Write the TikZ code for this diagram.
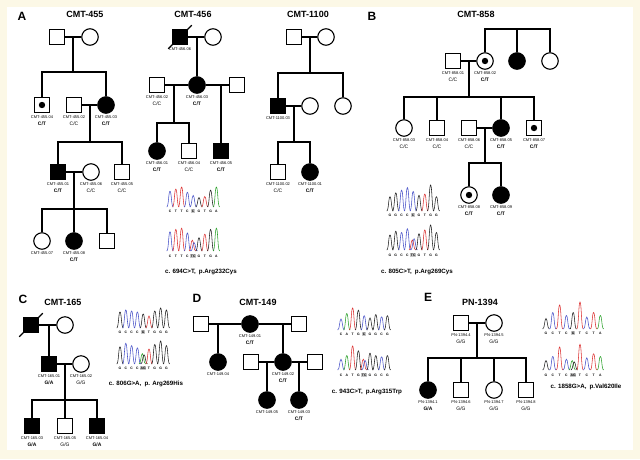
\documentclass[tikz,border=0pt]{standalone}
\usepackage{fontspec}
\setmainfont{Liberation Sans}
\usepackage{tikz}
\usetikzlibrary{positioning, calc}
\definecolor{paper}{RGB}{252,248,230}
\definecolor{baseA}{RGB}{40,160,40}
\definecolor{baseC}{RGB}{70,80,200}
\definecolor{baseG}{RGB}{30,30,30}
\definecolor{baseT}{RGB}{220,50,50}
\tikzset{
    trace/.style={line width=0.55pt},
    seqlet/.style={font=\fontsize{3.4}{3.4}\selectfont\bfseries, inner sep=0.5pt, text height=2.5pt, text depth=0pt},
    hl/.style={fill=black!22},
    mutcap/.style={font=\fontsize{6.2}{7}\selectfont\bfseries}
}
% genotypes: mutant in bold, wild type plain
\newcommand{\gtm}[1]{{\fontsize{5}{6}\selectfont\bfseries #1}}
\newcommand{\gtw}[1]{{\fontsize{5}{6}\selectfont #1}}
% chromatogram peaks: x0, spacing, baseline, height, {base/amp/pos,...}
\newcommand{\chromtrace}[5]{%
  \foreach \nuc/\amp/\ps in {#5} {
    \pgfmathsetmacro{\px}{#1+(\ps-1)*#2}
    \pgfmathsetmacro{\py}{#3-\amp*#4}
    \draw[trace, color=base\nuc] (\px-3.3,#3) .. controls (\px-1.3,#3) and (\px-1.5,\py) .. (\px,\py) .. controls (\px+1.5,\py) and (\px+1.3,#3) .. (\px+3.3,#3);
  }%
}
% sequence letters: prefix, x0, spacing, y, highlighted index, {letters}
\newcommand{\seqline}[6]{%
  \foreach \l [count=\i] in {#6} {
    \ifnum\i=#5\relax\def\st{hl}\else\def\st{}\fi
    \node[seqlet, \st] (#1\i) at ({#2+(\i-1)*#3}, #4) {\l};
  }%
}

\begin{document}
\begin{tikzpicture}[
    x=1pt, y=-1pt,
    male/.style={draw, rectangle, minimum size=15.5pt, inner sep=0pt, line width=1.1pt},
    female/.style={draw, circle, minimum size=16.5pt, inner sep=0pt, line width=1.1pt},
    aff/.style={fill=black},
    carrier/.style={path picture={\fill[black] (path picture bounding box.center) circle (3.2pt);}},
    pline/.style={line width=1.2pt},
    idlab/.style={font=\fontsize{4}{7}\selectfont, align=center, inner sep=0pt},
    panellab/.style={font=\fontsize{12}{12}\selectfont\bfseries},
    famtitle/.style={font=\fontsize{9}{9}\selectfont\bfseries}
]
    \useasboundingbox (0,0) rectangle (640,459);
    \fill[paper] (0,0) rectangle (640,459);
    \fill[white] (7,7) rectangle (633,450);

    % --- Panel A: CMT-455 ---
    \node[panellab] (labA) at (22,16) {A};
    \node[famtitle] (t455) at (85,14) {CMT-455};
    \node[male] (g455f) at (57,37) {};
    \node[female] (g455m) at (90,37) {};
    \node[male, carrier] (p45504) at (42,105) {};
    \node[male] (p45502) at (74,105) {};
    \node[female, aff] (p45503) at (106,105) {};
    \node[male, aff] (p45501) at (58,172) {};
    \node[female] (p45506) at (91,172) {};
    \node[male] (p45505) at (122,172) {};
    \node[female] (p45507) at (42,241) {};
    \node[female, aff] (p45508) at (74,241) {};
    \node[male] (g455s) at (107,241) {};

    \coordinate (s455a) at (73,72);
    \coordinate (s455b) at (90,142);
    \coordinate (s455c) at (74,209);
    \draw[pline] (g455f) -- (g455m);
    \draw[pline] (s455a |- g455f) -- (s455a);
    \draw[pline] (p45504) |- (s455a) -| (p45503);
    \draw[pline] (p45502) -- (p45503);
    \draw[pline] (s455b |- p45502) -- (s455b);
    \draw[pline] (p45501) |- (s455b) -| (p45505);
    \draw[pline] (p45501) -- (p45506);
    \draw[pline] (s455c |- p45501) -- (s455c);
    \draw[pline] (p45507) |- (s455c) -| (g455s);
    \draw[pline] (p45508) -- (p45508 |- s455c);

    % --- Panel A: CMT-456 ---
    \node[famtitle] (t456) at (193,14) {CMT-456};
    \node[male, aff] (p45606) at (180,37) {};
    \node[female] (g456m) at (213,37) {};
    \node[male] (p45602) at (157,85) {};
    \node[female, aff] (p45603) at (197,85) {};
    \node[male] (g456h) at (237,85) {};
    \node[female, aff] (p45601) at (157,151) {};
    \node[male] (p45604) at (189,151) {};
    \node[male, aff] (p45605) at (221,151) {};

    \coordinate (s456a) at (174,123);
    \draw[pline] ($(p45606.south west)+(-3.5,3.5)$) -- ($(p45606.north east)+(3.5,-3.5)$);
    \draw[pline] (p45606) -- (g456m);
    \draw[pline] (p45603 |- p45606) -- (p45603);
    \draw[pline] (p45602) -- (p45603);
    \draw[pline] (p45603) -- (g456h);
    \draw[pline] (s456a |- p45602) -- (s456a);
    \draw[pline] (p45601) |- (s456a) -| (p45604);
    \draw[pline] (p45605 |- g456h) -- (p45605);

    % --- Panel A: CMT-1100 ---
    \node[famtitle] (t1100) at (308,14) {CMT-1100};
    \node[male] (g1100f) at (294,37) {};
    \node[female] (g1100m) at (326,37) {};
    \node[male, aff] (p110003) at (278,106) {};
    \node[female] (g1100w) at (310,106) {};
    \node[female] (g1100d) at (343,106) {};
    \node[male] (p110002) at (278,172) {};
    \node[female, aff] (p110001) at (310,172) {};

    \coordinate (s1100a) at (310,73);
    \coordinate (s1100b) at (294,142);
    \draw[pline] (g1100f) -- (g1100m);
    \draw[pline] (s1100a |- g1100f) -- (s1100a);
    \draw[pline] (p110003) |- (s1100a) -| (g1100d);
    \draw[pline] (p110003) -- (g1100w);
    \draw[pline] (s1100b |- p110003) -- (s1100b);
    \draw[pline] (p110002) |- (s1100b) -| (p110001);

    % traces for panel A
    \chromtrace{170}{5.8}{207}{21}{C/.75/1, T/.85/2, T/.95/3, C/.7/4, C/.55/5, G/.45/6, T/.5/7, G/.8/8, A/.95/9}
    \seqline{qA}{170}{5.8}{211}{5}{C,T,T,C,C,G,T,G,A}
    \chromtrace{170}{5.8}{251}{24}{C/.8/1, T/.9/2, T/.95/3, C/.75/4, T/.45/4.85, C/.35/5.15, G/.55/6, T/.7/7, G/.9/8, A/.95/9}
    \seqline{rA}{170}{5.8}{256}{5}{C,T,T,C,TC,G,T,G,A}
    \node[mutcap] (capA) at (201,272) {c. 694C>T,\enspace p.Arg232Cys};

    % --- Panel B: CMT-858 ---
    \node[panellab] (labB) at (372,16) {B};
    \node[famtitle] (t858) at (476,14) {CMT-858};
    \node[male] (p85801) at (453,61) {};
    \node[female, carrier] (p85802) at (485,61) {};
    \node[female, aff] (g858a) at (517,61) {};
    \node[female] (g858b) at (550,61) {};
    \node[female] (p85803) at (404,128) {};
    \node[male] (p85804) at (437,128) {};
    \node[male] (p85806) at (469,128) {};
    \node[female, aff] (p85805) at (501,128) {};
    \node[male, carrier] (p85807) at (534,128) {};
    \node[female, carrier] (p85808) at (469,195) {};
    \node[female, aff] (p85809) at (501,195) {};

    \coordinate (s858a) at (517,29);
    \coordinate (s858b) at (469,97);
    \coordinate (s858c) at (485,163);
    \draw[pline] (p85802) |- (s858a) -| (g858b);
    \draw[pline] (g858a) -- (g858a |- s858a);
    \draw[pline] (p85801) -- (p85802);
    \draw[pline] (s858b |- p85801) -- (s858b);
    \draw[pline] (p85803) |- (s858b) -| (p85807);
    \foreach \c in {p85804, p85805}
        \draw[pline] (\c) -- (\c |- s858b);
    \draw[pline] (p85806) -- (p85805);
    \draw[pline] (s858c |- p85806) -- (s858c);
    \draw[pline] (p85808) |- (s858c) -| (p85809);

    % traces for panel B
    \chromtrace{390}{5.8}{211}{26}{G/.55/1, G/.7/2, C/.8/3, C/.9/4, C/.75/5, G/.6/6, T/.65/7, G/1/8, G/.55/9}
    \seqline{qB}{390}{5.8}{215}{5}{G,G,C,C,C,G,T,G,G}
    \chromtrace{390}{5.8}{250}{25}{G/.6/1, G/.75/2, C/.7/3, C/.85/4, T/.4/4.85, C/.45/5.15, G/.65/6, T/.8/7, G/1/8, G/.7/9}
    \seqline{rB}{390}{5.8}{255}{5}{G,G,C,C,TC,G,T,G,G}
    \node[mutcap] (capB) at (417,272) {c. 805C>T,\enspace p.Arg269Cys};

    % --- Panel C: CMT-165 ---
    \node[panellab] (labC) at (23,299) {C};
    \node[famtitle] (t165) at (63,302) {CMT-165};
    \node[male, aff] (p16500) at (31,325) {};
    \node[female] (g165m) at (65,325) {};
    \node[male, aff] (p16501) at (49,364) {};
    \node[female] (p16502) at (81,364) {};
    \node[male, aff] (p16503) at (32,426) {};
    \node[male] (p16505) at (65,426) {};
    \node[male, aff] (p16504) at (97,426) {};

    \coordinate (s165a) at (65,400);
    \draw[pline] ($(p16500.south west)+(-3.5,3.5)$) -- ($(p16500.north east)+(3.5,-3.5)$);
    \draw[pline] (p16500) -- (g165m);
    \draw[pline] (p16501 |- p16500) -- (p16501);
    \draw[pline] (p16501) -- (p16502);
    \draw[pline] (s165a |- p16501) -- (s165a);
    \draw[pline] (p16503) |- (s165a) -| (p16504);
    \draw[pline] (p16505) -- (p16505 |- s165a);

    % traces for panel C
    \chromtrace{120}{5.8}{328}{20}{G/.8/1, C/.9/2, C/.85/3, C/.8/4, G/.7/5, T/.6/6, G/.85/7, G/1/8, G/.9/9}
    \seqline{qC}{120}{5.8}{332}{5}{G,C,C,C,G,T,G,G,G}
    \chromtrace{120}{5.8}{364}{23}{G/.75/1, C/.9/2, C/.8/3, C/.7/4, A/.45/4.85, G/.4/5.15, T/.65/6, G/.85/7, G/1/8, G/.8/9}
    \seqline{rC}{120}{5.8}{368}{5}{G,C,C,C,AG,T,G,G,G}
    \node[mutcap] (capC) at (146,384) {c. 806G>A,\enspace p. Arg269His};

    % --- Panel D: CMT-149 ---
    \node[panellab] (labD) at (197,298) {D};
    \node[famtitle] (t149) at (258,302) {CMT-149};
    \node[male] (g149a) at (201,324) {};
    \node[female, aff] (p14901) at (250,324) {};
    \node[male] (g149b) at (299,324) {};
    \node[female, aff] (p14904) at (218,362) {};
    \node[male] (g149c) at (251,362) {};
    \node[female, aff] (p14902) at (283,362) {};
    \node[male] (g149d) at (315,362) {};
    \node[female, aff] (p14905) at (267,400) {};
    \node[female, aff] (p14903) at (299,400) {};

    \draw[pline] (g149a) -- (p14901);
    \draw[pline, line width=1.8pt] (p14901) -- (g149b);
    \draw[pline] (p14904 |- g149a) -- (p14904);
    \draw[pline] (p14902 |- g149b) -- (p14902);
    \draw[pline] (g149c) -- (p14902);
    \draw[pline] (p14902) -- (g149d);
    \draw[pline] (p14905 |- g149c) -- (p14905);
    \draw[pline] (p14903 |- g149d) -- (p14903);

    % traces for panel D
    \chromtrace{341}{5.8}{330}{22}{C/.5/1, A/.75/2, T/1/3, G/.9/4, C/.65/5, G/.55/6, G/.7/7, C/.6/8, G/.65/9}
    \seqline{qD}{341}{5.8}{334}{5}{C,A,T,G,C,G,G,C,G}
    \chromtrace{341}{5.8}{370}{24}{C/.45/1, A/.6/2, T/1/3, G/.8/4, T/.45/4.85, C/.4/5.15, G/.7/6, G/.6/7, C/.55/8, G/.6/9}
    \seqline{rD}{341}{5.8}{375}{5}{C,A,T,G,TC,G,G,C,G}
    \node[mutcap] (capD) at (367,392) {c. 943C>T,\enspace p.Arg315Trp};

    % --- Panel E: PN-1394 ---
    \node[panellab] (labE) at (428,297) {E};
    \node[famtitle] (t1394) at (480,302) {PN-1394};
    \node[male] (p13944) at (461,323) {};
    \node[female] (p13945) at (494,323) {};
    \node[female, aff] (p13941) at (428,390) {};
    \node[male] (p13946) at (461,390) {};
    \node[female] (p13947) at (494,390) {};
    \node[male] (p13948) at (526,390) {};

    \coordinate (s1394a) at (477,358);
    \draw[pline] (p13944) -- (p13945);
    \draw[pline] (s1394a |- p13944) -- (s1394a);
    \draw[pline] (p13941) |- (s1394a) -| (p13948);
    \foreach \c in {p13946, p13947}
        \draw[pline] (\c) -- (\c |- s1394a);

    % traces for panel E
    \chromtrace{546}{6.8}{329}{30}{G/.35/1, C/.55/2, T/.8/3, C/.45/4, G/.55/5, T/.9/6, C/.4/7, T/.55/8, A/.45/9}
    \seqline{qE}{546}{6.8}{333}{5}{G,C,T,C,G,T,C,T,A}
    \chromtrace{546}{6.8}{370}{27}{G/.35/1, C/.5/2, T/.85/3, C/.4/4, A/.35/4.85, G/.3/5.15, T/.95/6, C/.45/7, T/.6/8, A/.5/9}
    \seqline{rE}{546}{6.8}{375}{5}{G,C,T,C,AG,T,C,T,A}
    \node[mutcap] (capE) at (586,387) {c. 1858G>A,\enspace p.Val620Ile};

    % --- ID and genotype labels ---
    \foreach \pn/\tx/\gty in {
        p45504/CMT-455.04/\gtm{C/T}, p45502/CMT-455.02/\gtw{C/C}, p45503/CMT-455.03/\gtm{C/T},
        p45501/CMT-455.01/\gtm{C/T}, p45506/CMT-455.06/\gtw{C/C}, p45505/CMT-455.05/\gtw{C/C},
        p45507/CMT-455.07/{}, p45508/CMT-455.08/\gtm{C/T},
        p45606/CMT-456.06/{}, p45602/CMT-456.02/\gtw{C/C}, p45603/CMT-456.03/\gtm{C/T},
        p45601/CMT-456.01/\gtm{C/T}, p45604/CMT-456.04/\gtw{C/C}, p45605/CMT-456.05/\gtm{C/T},
        p110003/CMT-1100.03/{}, p110002/CMT-1100.02/\gtw{C/C}, p110001/CMT-1100.01/\gtm{C/T},
        p85801/CMT-858.01/\gtw{C/C}, p85802/CMT-858.02/\gtm{C/T},
        p85803/CMT-858.03/\gtw{C/C}, p85804/CMT-858.04/\gtw{C/C}, p85806/CMT-858.06/\gtw{C/C},
        p85805/CMT-858.05/\gtm{C/T}, p85807/CMT-858.07/\gtm{C/T},
        p85808/CMT-858.08/\gtm{C/T}, p85809/CMT-858.09/\gtm{C/T},
        p16501/CMT-165.01/\gtm{G/A}, p16502/CMT-165.02/\gtw{G/G},
        p16503/CMT-165.03/\gtm{G/A}, p16505/CMT-165.05/\gtw{G/G}, p16504/CMT-165.04/\gtm{G/A},
        p14901/CMT-149.01/\gtm{C/T}, p14904/CMT-149.04/{}, p14902/CMT-149.02/\gtm{C/T},
        p14905/CMT-149.05/{}, p14903/CMT-149.03/\gtm{C/T},
        p13944/PN-1394.4/\gtw{G/G}, p13945/PN-1394.5/\gtw{G/G},
        p13941/PN-1394.1/\gtm{G/A}, p13946/PN-1394.6/\gtw{G/G},
        p13947/PN-1394.7/\gtw{G/G}, p13948/PN-1394.8/\gtw{G/G}}
        \node[idlab, below=1.8pt of \pn] (\pn-l) {\tx\\\gty};

\end{tikzpicture}
\end{document}
